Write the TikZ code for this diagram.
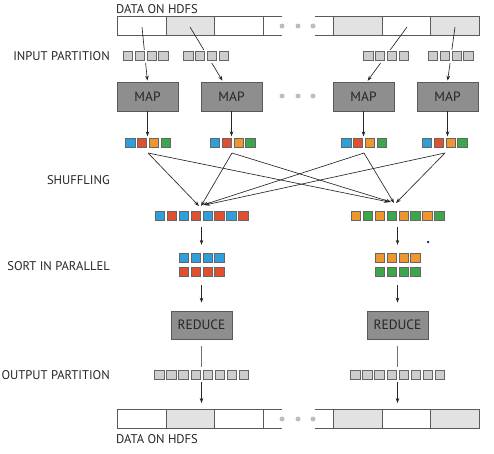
\documentclass[tikz,border=0pt]{standalone}
\usepackage{fontspec}
\setmainfont{PT Sans}
\usetikzlibrary{arrows.meta,calc}
\definecolor{sqblue}{HTML}{2E9FD8}
\definecolor{sqred}{HTML}{E0502E}
\definecolor{sqorange}{HTML}{F0962E}
\definecolor{sqgreen}{HTML}{3BA64C}
\definecolor{mapgray}{HTML}{8E8E8E}
\definecolor{cellgray}{HTML}{E2E2E2}
\definecolor{partgray}{HTML}{CDCDCD}
\definecolor{edgegray}{HTML}{5A5A5A}
\definecolor{dotgray}{HTML}{BDBDBD}
\begin{document}
\begin{tikzpicture}[x=1pt,y=-1pt,
  lbl/.style={font=\fontsize{12.6}{14}\selectfont, text=black!85, inner sep=0},
  cell/.style={draw=edgegray, line width=0.7pt, minimum height=19, minimum width=48.5, inner sep=0, anchor=north west},
  gcell/.style={cell, fill=cellgray},
  procbox/.style={draw=edgegray, fill=mapgray, line width=0.8pt, minimum width=61, minimum height=29, inner sep=0, font=\fontsize{13.5}{15}\selectfont, text=black!85},
  sq/.style={draw=black!60, line width=0.5pt, minimum size=9.3, inner sep=0},
  psq/.style={sq, fill=partgray},
  holder/.style={fill=white, inner sep=0, minimum height=13},
  arr/.style={-{Stealth[length=5pt,width=3.6pt]}, line width=0.65pt, draw=black!85},
  plain/.style={line width=0.65pt, draw=black!55},
  edge/.style={draw=edgegray, line width=0.7pt},
  gdot/.style={circle, fill=dotgray, minimum size=5, inner sep=0}
]
\useasboundingbox (0,0) rectangle (494,453);

% ---------- top HDFS bar ----------
\node[lbl, anchor=west] (toplbl) at (116,9) {DATA ON HDFS};
\node[cell]  (t1) at (117,16) {};
\node[gcell] (t2) at (165.5,16) {};
\node[cell]  (t3) at (214,16) {};
\node[gcell] (t4) at (333,16) {};
\node[cell]  (t5) at (381.5,16) {};
\node[gcell] (t6) at (430,16) {};
\draw[edge] (t3.north east) -- ++(19,0) (t3.south east) -- ++(19,0);
\draw[edge] (t4.north west) -- ++(-18,0) (t4.south west) -- ++(-18,0);
\node[gdot] (td1) at (282,26) {};
\node[gdot] (td2) at (298,26) {};
\node[gdot] (td3) at (313,26) {};

% ---------- labels ----------
\node[lbl, anchor=east] (l1) at (110,56) {INPUT PARTITION};
\node[lbl, anchor=east] (l2) at (110,180) {SHUFFLING};
\node[lbl, anchor=east] (l3) at (110,266) {SORT IN PARALLEL};
\node[lbl, anchor=east] (l4) at (110,375) {OUTPUT PARTITION};

% ---------- MAP boxes ----------
\node[procbox] (m1) at (147.5,96.5) {MAP};
\node[procbox] (m2) at (231.5,96.5) {MAP};
\node[procbox] (m3) at (363.5,96.5) {MAP};
\node[procbox] (m4) at (447.5,96.5) {MAP};
\node[gdot] (md1) at (282,96) {};
\node[gdot] (md2) at (298,96) {};
\node[gdot] (md3) at (313,96) {};

% ---------- HDFS -> MAP arrows ----------
\coordinate (a1) at (142,27);
\coordinate (a2) at (190,27);
\coordinate (a3) at (407,27);
\coordinate (a4) at (455,27);
\draw[arr, shorten >=1pt] (a1) -- (m1.north);
\draw[arr, shorten >=1pt] (a2) -- ($(m2.north)+(-8.5,0)$);
\draw[arr, shorten >=1pt] (a3) -- ($(m3.north)+(3.5,0)$);
\draw[arr, shorten >=1pt] (a4) -- (m4.north);

% ---------- input partitions ----------
\foreach \cx [count=\g] in {145.5,206,386,450.5}{
  \node[holder, minimum width=48] (ip\g) at (\cx,56) {};
  \foreach \i in {1,...,4}
    \node[psq] (ip\g-\i) at ({\cx+(\i-2.5)*11.9},56) {};
}

% ---------- map outputs ----------
\foreach \cx [count=\g] in {148,232.5,364,444.5}{
  \node[inner sep=0, minimum width=47, minimum height=10] (gc\g) at (\cx,143) {};
  \foreach \c [count=\i] in {sqblue,sqred,sqorange,sqgreen}
    \node[sq, fill=\c] (gc\g-\i) at ({\cx+(\i-2.5)*11.9},143) {};
}
\draw[arr, shorten >=1.5pt] (m1.south) -- (m1.south |- gc1.north);
\draw[arr, shorten >=1.5pt] (m2.south) -- (m2.south |- gc2.north);
\draw[arr, shorten >=1.5pt] (m3.south) -- (m3.south |- gc3.north);
\draw[arr, shorten >=1.5pt] (m4.south) -- (m4.south |- gc4.north);

% ---------- merged rows ----------
\node[inner sep=0, minimum width=94, minimum height=10] (mL) at (201.5,216) {};
\node[inner sep=0, minimum width=94, minimum height=10] (mR) at (397.5,216) {};
\foreach \c [count=\i] in {sqblue,sqred,sqblue,sqred,sqblue,sqred,sqblue,sqred}
  \node[sq, fill=\c] (mL-\i) at ({201.5+(\i-4.5)*11.9},216) {};
\foreach \c [count=\i] in {sqorange,sqgreen,sqorange,sqgreen,sqorange,sqgreen,sqorange,sqgreen}
  \node[sq, fill=\c] (mR-\i) at ({397.5+(\i-4.5)*11.9},216) {};

% ---------- shuffling arrows ----------
\coordinate (s1) at (148,153);
\coordinate (s2) at (232,153);
\coordinate (s3) at (364,153);
\coordinate (s4) at (445,153);
\coordinate (tL1) at (199,206);
\coordinate (tL2) at (201,206);
\coordinate (tL3) at (203,205);
\coordinate (tL4) at (205,205);
\coordinate (tR1) at (389,202);
\coordinate (tR2) at (391,202);
\coordinate (tR3) at (394,203);
\coordinate (tR4) at (396,203);
\draw[arr] (s1) -- (tL1);
\draw[arr] (s2) -- (tL2);
\draw[arr] (s3) -- (tL3);
\draw[arr] (s4) -- (tL4);
\draw[arr] (s1) -- (tR1);
\draw[arr] (s2) -- (tR2);
\draw[arr] (s3) -- (tR3);
\draw[arr] (s4) -- (tR4);

% ---------- sort in parallel ----------
\node[inner sep=0, minimum width=47, minimum height=23] (sL) at (201.5,264.5) {};
\node[inner sep=0, minimum width=47, minimum height=23] (sR) at (397.5,264.5) {};
\foreach \i in {1,...,4}{
  \node[sq, fill=sqblue]   (sL-a\i) at ({201.5+(\i-2.5)*11.9},257.5) {};
  \node[sq, fill=sqred]    (sL-b\i) at ({201.5+(\i-2.5)*11.9},271.5) {};
  \node[sq, fill=sqorange] (sR-a\i) at ({397.5+(\i-2.5)*11.9},257.5) {};
  \node[sq, fill=sqgreen]  (sR-b\i) at ({397.5+(\i-2.5)*11.9},271.5) {};
}
\draw[arr, shorten <=6pt, shorten >=8pt] (mL.south) -- (sL.north);
\draw[arr, shorten <=6pt, shorten >=8pt] (mR.south) -- (sR.north);

% ---------- reduce ----------
\node[procbox, minimum height=28] (r1) at (201.5,325) {REDUCE};
\node[procbox, minimum height=28] (r2) at (397.5,325) {REDUCE};
\draw[arr, shorten <=9pt, shorten >=8pt] (sL.south) -- (r1.north);
\draw[arr, shorten <=9pt, shorten >=8pt] (sR.south) -- (r2.north);

% ---------- output partitions ----------
\node[inner sep=0, minimum width=96, minimum height=14] (oL) at (201.5,374.5) {};
\node[inner sep=0, minimum width=96, minimum height=14] (oR) at (397.5,374.5) {};
\foreach \i in {1,...,8}{
  \node[psq] (oL-\i) at ({201.5+(\i-4.5)*12.1},374.5) {};
  \node[psq] (oR-\i) at ({397.5+(\i-4.5)*12.1},374.5) {};
}
\draw[plain, shorten <=7pt] (r1.south) -- (oL.north);
\draw[plain, shorten <=7pt] (r2.south) -- (oR.north);

% ---------- bottom HDFS bar ----------
\node[cell]  (b1) at (117,409) {};
\node[gcell] (b2) at (165.5,409) {};
\node[cell]  (b3) at (214,409) {};
\node[gcell] (b4) at (333,409) {};
\node[cell]  (b5) at (381.5,409) {};
\node[gcell] (b6) at (430,409) {};
\draw[edge] (b3.north east) -- ++(19,0) (b3.south east) -- ++(19,0);
\draw[edge] (b4.north west) -- ++(-18,0) (b4.south west) -- ++(-18,0);
\node[gdot] (bd1) at (282,419) {};
\node[gdot] (bd2) at (298,419) {};
\node[gdot] (bd3) at (313,419) {};
\node[lbl, anchor=west] (botlbl) at (116,439) {DATA ON HDFS};

\draw[arr, shorten >=6pt] (oL.south) -- (oL.south |- b2.north);
\draw[arr, shorten >=6pt] (oR.south) -- (oR.south |- b5.north);

% small marker dot
\node[circle, fill=blue!50!black, minimum size=2.5, inner sep=0] (mark) at (428,242) {};
\end{tikzpicture}
\end{document}
